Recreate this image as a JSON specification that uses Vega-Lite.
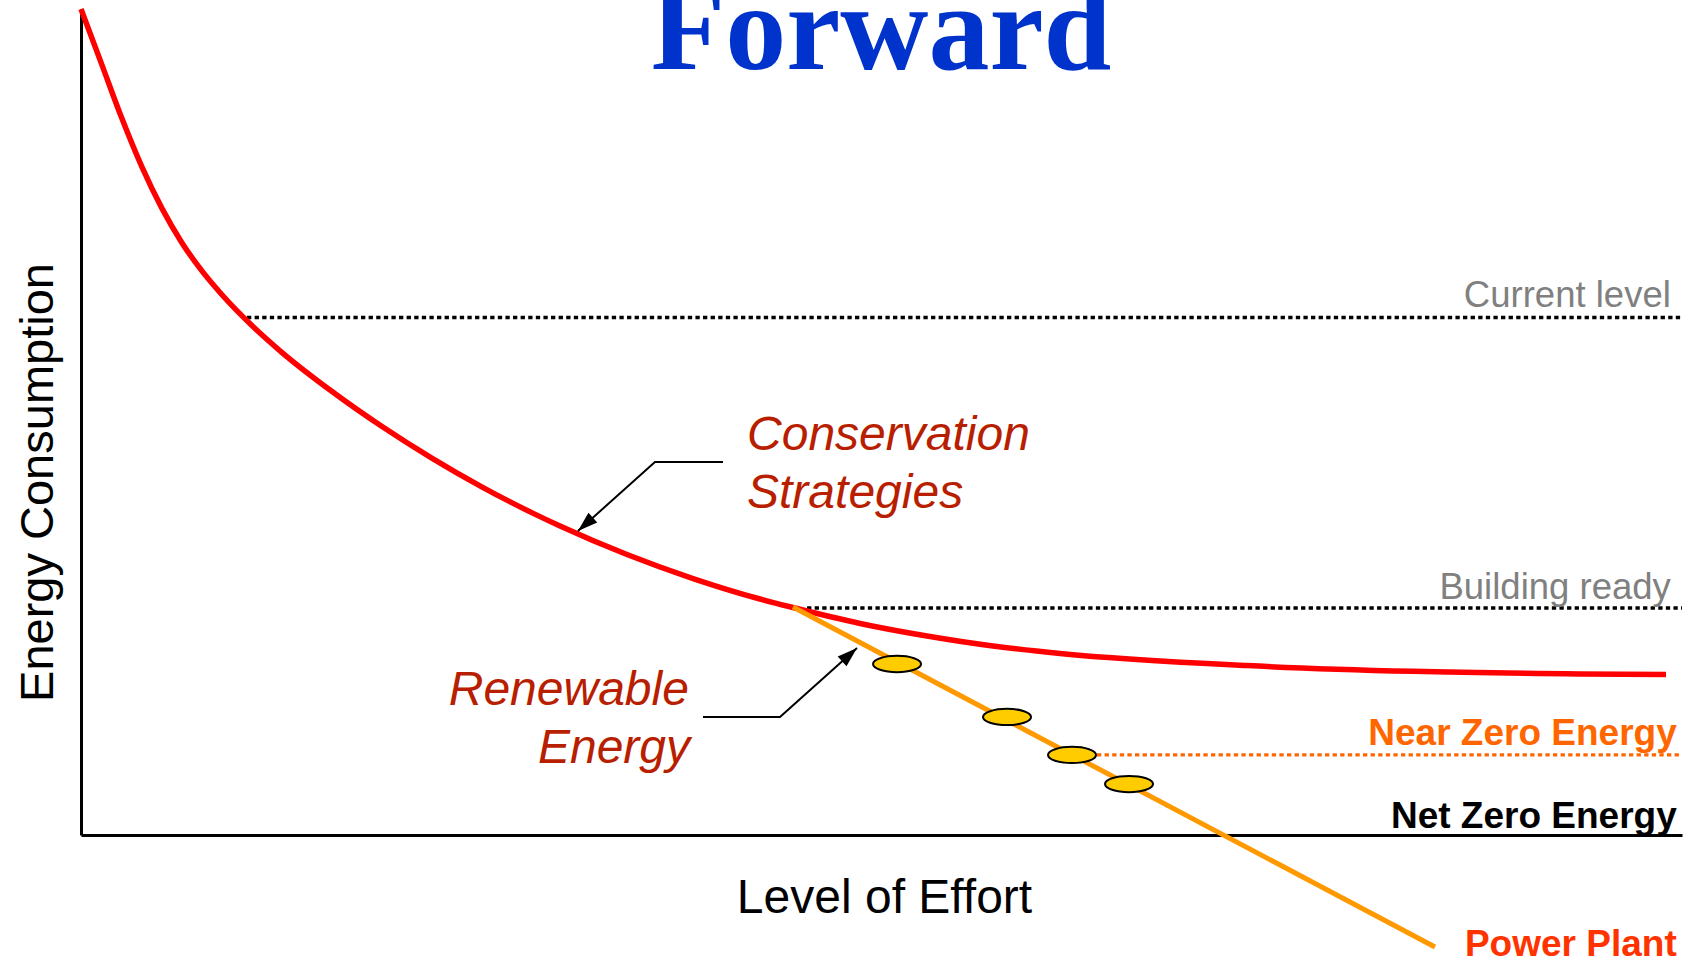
{
  "$schema": "https://vega.github.io/schema/vega-lite/v6.json",
  "width": 1601,
  "height": 826,
  "autosize": {"type": "none"},
  "padding": {"left": 81, "top": 9, "right": 14, "bottom": 126},
  "background": "white",
  "config": {"view": {"stroke": null}, "font": "Liberation Sans"},
  "datasets": {
    "curve": [
      {"effort": 0, "energy": 100},
      {"effort": 1.29, "energy": 93.33},
      {"effort": 2.54, "energy": 86.82},
      {"effort": 3.79, "energy": 80.94},
      {"effort": 5.04, "energy": 75.92},
      {"effort": 6.29, "energy": 71.74},
      {"effort": 7.54, "energy": 68.32},
      {"effort": 8.79, "energy": 65.44},
      {"effort": 10.66, "energy": 61.71},
      {"effort": 12.54, "energy": 58.44},
      {"effort": 15.66, "energy": 53.72},
      {"effort": 18.78, "energy": 49.48},
      {"effort": 21.91, "energy": 45.63},
      {"effort": 25.03, "energy": 42.15},
      {"effort": 28.15, "energy": 39.03},
      {"effort": 29.92, "energy": 37.41},
      {"effort": 34.1, "energy": 33.96},
      {"effort": 38.23, "energy": 31.05},
      {"effort": 42.41, "energy": 28.57},
      {"effort": 44.47, "energy": 27.54},
      {"effort": 48.66, "energy": 25.61},
      {"effort": 52.84, "energy": 24.09},
      {"effort": 56.96, "energy": 22.88},
      {"effort": 61.15, "energy": 21.97},
      {"effort": 72.83, "energy": 20.51},
      {"effort": 83.2, "energy": 19.81},
      {"effort": 93.63, "energy": 19.5},
      {"effort": 99.0, "energy": 19.42}
    ],
    "levels": [
      {"level": "Current level", "effort": 10.37, "energy": 62.65},
      {"level": "Current level", "effort": 100, "energy": 62.65},
      {"level": "Building ready", "effort": 45.35, "energy": 27.48},
      {"level": "Building ready", "effort": 100, "energy": 27.48},
      {"level": "Near Zero Energy", "effort": 63.46, "energy": 9.69},
      {"level": "Near Zero Energy", "effort": 100, "energy": 9.69}
    ],
    "renewable": [
      {"effort": 44.47, "energy": 27.6},
      {"effort": 84.57, "energy": -13.56}
    ],
    "milestones": [
      {"effort": 50.97, "energy": 20.7},
      {"effort": 57.84, "energy": 14.29},
      {"effort": 61.9, "energy": 9.69},
      {"effort": 65.46, "energy": 6.17}
    ],
    "arrows": [
      {"arrow": "conservation", "step": 1, "effort": 40.1, "energy": 45.16},
      {"arrow": "conservation", "step": 2, "effort": 35.85, "energy": 45.16},
      {"arrow": "conservation", "step": 3, "effort": 31.04, "energy": 36.8},
      {"arrow": "renewable", "step": 1, "effort": 38.85, "energy": 14.29},
      {"arrow": "renewable", "step": 2, "effort": 43.66, "energy": 14.29},
      {"arrow": "renewable", "step": 3, "effort": 48.47, "energy": 22.64}
    ],
    "labels": [
      {"kind": "title", "text": "Forward", "effort": 49.97, "energy": 92.74},
      {"kind": "level", "text": "Current level", "effort": 99.3, "energy": 63.96},
      {"kind": "level", "text": "Building ready", "effort": 99.3, "energy": 28.53},
      {"kind": "near", "text": "Near Zero Energy", "effort": 99.67, "energy": 10.9},
      {"kind": "net", "text": "Net Zero Energy", "effort": 99.67, "energy": 0.81},
      {"kind": "plant", "text": "Power Plant", "effort": 99.67, "energy": -14.7},
      {"kind": "conservation", "text": "Conservation", "effort": 41.6, "energy": 46.61},
      {"kind": "conservation", "text": "Strategies", "effort": 41.6, "energy": 39.59},
      {"kind": "renew", "text": "Renewable", "effort": 37.97, "energy": 15.74},
      {"kind": "renew", "text": "Energy", "effort": 38.04, "energy": 8.72}
    ]
  },
  "encoding": {
    "x": {
      "field": "effort",
      "type": "quantitative",
      "scale": {"domain": [0, 100], "nice": false, "zero": false},
      "axis": {
        "title": "Level of Effort",
        "domain": true,
        "domainColor": "black",
        "domainWidth": 3,
        "ticks": false,
        "labels": false,
        "grid": false,
        "titleFont": "Liberation Sans",
        "titleFontSize": 48,
        "titleFontWeight": "normal",
        "titleColor": "black",
        "titleBaseline": "alphabetic",
        "titleY": 77,
        "titleX": 803
      }
    },
    "y": {
      "field": "energy",
      "type": "quantitative",
      "scale": {"domain": [0, 100], "nice": false, "zero": false},
      "axis": {
        "title": "Energy Consumption",
        "domain": true,
        "domainColor": "black",
        "domainWidth": 3,
        "ticks": false,
        "labels": false,
        "grid": false,
        "titleFont": "Liberation Sans",
        "titleFontSize": 47,
        "titleFontWeight": "normal",
        "titleColor": "black",
        "titleAngle": 270,
        "titleAlign": "center",
        "titleBaseline": "alphabetic",
        "titleX": -29,
        "titleY": 473
      }
    }
  },
  "layer": [
    {
      "data": {"name": "levels"},
      "transform": [{"filter": "datum.level !== 'Near Zero Energy'"}],
      "mark": {"type": "line", "color": "black", "strokeWidth": 3.3, "strokeDash": [4.3, 3.3]},
      "encoding": {"detail": {"field": "level"}}
    },
    {
      "data": {"name": "levels"},
      "transform": [{"filter": "datum.level === 'Near Zero Energy'"}],
      "mark": {"type": "line", "color": "#FF6600", "strokeWidth": 3.3, "strokeDash": [4.3, 3.3]},
      "encoding": {"detail": {"field": "level"}}
    },
    {
      "data": {"name": "curve"},
      "mark": {"type": "line", "color": "#FF0000", "strokeWidth": 5.5, "interpolate": "monotone"},
      "encoding": {}
    },
    {
      "data": {"name": "renewable"},
      "mark": {"type": "line", "color": "#FF9900", "strokeWidth": 5},
      "encoding": {}
    },
    {
      "data": {"name": "milestones"},
      "mark": {
        "type": "point",
        "shape": "M -1 0 A 1 0.34 0 1 0 1 0 A 1 0.34 0 1 0 -1 0 Z",
        "size": 2304,
        "filled": true,
        "fill": "#FFCC00",
        "fillOpacity": 1,
        "stroke": "black",
        "strokeWidth": 2,
        "opacity": 1
      },
      "encoding": {}
    },
    {
      "data": {"name": "arrows"},
      "mark": {"type": "line", "color": "black", "strokeWidth": 2},
      "encoding": {"detail": {"field": "arrow"}, "order": {"field": "step", "type": "quantitative"}}
    },
    {
      "data": {"name": "arrows"},
      "transform": [{"filter": "datum.step === 3 && datum.arrow === 'conservation'"}],
      "mark": {"type": "point", "shape": "M 0 0 L 0.33 1 L -0.33 1 Z", "size": 1600, "filled": true, "fill": "black", "stroke": null, "opacity": 1, "angle": 228.2},
      "encoding": {}
    },
    {
      "data": {"name": "arrows"},
      "transform": [{"filter": "datum.step === 3 && datum.arrow === 'renewable'"}],
      "mark": {"type": "point", "shape": "M 0 0 L 0.33 1 L -0.33 1 Z", "size": 1600, "filled": true, "fill": "black", "stroke": null, "opacity": 1, "angle": 48.2},
      "encoding": {}
    },
    {
      "data": {"name": "labels"},
      "transform": [{"filter": "datum.kind === 'title'"}],
      "mark": {"type": "text", "align": "center", "baseline": "alphabetic", "font": "Liberation Serif", "fontSize": 122, "fontWeight": "bold", "color": "#0033CC"},
      "encoding": {"text": {"field": "text"}}
    },
    {
      "data": {"name": "labels"},
      "transform": [{"filter": "datum.kind === 'level'"}],
      "mark": {"type": "text", "align": "right", "baseline": "alphabetic", "font": "Liberation Sans", "fontSize": 36.5, "color": "#808080"},
      "encoding": {"text": {"field": "text"}}
    },
    {
      "data": {"name": "labels"},
      "transform": [{"filter": "datum.kind === 'near'"}],
      "mark": {"type": "text", "align": "right", "baseline": "alphabetic", "font": "Liberation Sans", "fontSize": 37, "fontWeight": "bold", "color": "#FF6600"},
      "encoding": {"text": {"field": "text"}}
    },
    {
      "data": {"name": "labels"},
      "transform": [{"filter": "datum.kind === 'net'"}],
      "mark": {"type": "text", "align": "right", "baseline": "alphabetic", "font": "Liberation Sans", "fontSize": 37, "fontWeight": "bold", "color": "black"},
      "encoding": {"text": {"field": "text"}}
    },
    {
      "data": {"name": "labels"},
      "transform": [{"filter": "datum.kind === 'plant'"}],
      "mark": {"type": "text", "align": "right", "baseline": "alphabetic", "font": "Liberation Sans", "fontSize": 37, "fontWeight": "bold", "color": "#FF3300"},
      "encoding": {"text": {"field": "text"}}
    },
    {
      "data": {"name": "labels"},
      "transform": [{"filter": "datum.kind === 'conservation'"}],
      "mark": {"type": "text", "align": "left", "baseline": "alphabetic", "font": "Liberation Sans", "fontSize": 48, "fontStyle": "italic", "color": "#B81E00"},
      "encoding": {"text": {"field": "text"}}
    },
    {
      "data": {"name": "labels"},
      "transform": [{"filter": "datum.kind === 'renew'"}],
      "mark": {"type": "text", "align": "right", "baseline": "alphabetic", "font": "Liberation Sans", "fontSize": 48, "fontStyle": "italic", "color": "#B81E00"},
      "encoding": {"text": {"field": "text"}}
    }
  ]
}
